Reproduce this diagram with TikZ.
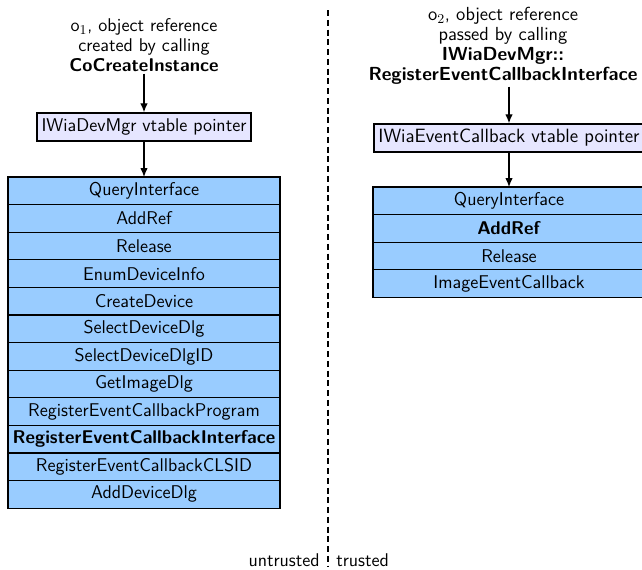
\documentclass[tikz,border=0pt]{standalone}
\usetikzlibrary{arrows.meta}
\definecolor{rowblue}{RGB}{153,204,255}
\definecolor{ptrfill}{RGB}{230,230,255}
\begin{document}
\begin{tikzpicture}[x=0.6667pt,y=-0.6667pt,font=\sffamily\fontsize{12.3}{13.4}\selectfont,
  rowbox/.style={draw,line width=0.9pt,fill=rowblue,minimum width=181.3pt,minimum height=18.4pt,inner sep=0pt,outer sep=0pt,anchor=north},
  ptrbox/.style={draw,line width=0.9pt,fill=ptrfill,minimum height=18.7pt,inner xsep=3pt,inner ysep=0pt},
  caption/.style={align=center,inner sep=1pt},
  arr/.style={-{Latex[length=6pt,width=5pt]},line width=0.8pt}]
\useasboundingbox (0,0) rectangle (642,569);
% left column
\node[caption] (lcap) at (144,45) {o$_1$, object reference\\created by calling\\\textbf{CoCreateInstance}};
\node[ptrbox] (lptr) at (144,127) {IWiaDevMgr vtable pointer};
\node[rowbox] (l1) at (144,177) {QueryInterface};
\node[rowbox] (l2) at (l1.south) {AddRef};
\node[rowbox] (l3) at (l2.south) {Release};
\node[rowbox] (l4) at (l3.south) {EnumDeviceInfo};
\node[rowbox] (l5) at (l4.south) {CreateDevice};
\node[rowbox] (l6) at (l5.south) {SelectDeviceDlg};
\node[rowbox] (l7) at (l6.south) {SelectDeviceDlgID};
\node[rowbox] (l8) at (l7.south) {GetImageDlg};
\node[rowbox] (l9) at (l8.south) {RegisterEventCallbackProgram};
\node[rowbox] (l10) at (l9.south) {\textbf{RegisterEventCallbackInterface}};
\node[rowbox] (l11) at (l10.south) {RegisterEventCallbackCLSID};
\node[rowbox] (l12) at (l11.south) {AddDeviceDlg};
\draw[arr] (lcap) -- (lptr);
\draw[arr] (lptr) -- (l1.north);
% right column
\node[caption,font=\sffamily\fontsize{12.6}{13.4}\selectfont] (rcap) at (503,46) {o$_2$, object reference\\passed by calling\\\textbf{IWiaDevMgr::}\\\textbf{RegisterEventCallbackInterface}};
\node[ptrbox,font=\sffamily\fontsize{12.8}{13.4}\selectfont] (rptr) at (509,138) {IWiaEventCallback vtable pointer};
\node[rowbox] (r1) at (509,187) {QueryInterface};
\node[rowbox] (r2) at (r1.south) {\textbf{AddRef}};
\node[rowbox] (r3) at (r2.south) {Release};
\node[rowbox] (r4) at (r3.south) {ImageEventCallback};
\draw[arr] (rptr.north |- rcap.south) -- (rptr.north);
\draw[arr] (rptr) -- (r1.north);
% trust boundary
\coordinate (dtop) at (328,10);
\coordinate (dbot) at (328,566);
\draw[line width=0.7pt,dash pattern=on 4pt off 2.5pt] (dtop) -- (dbot);
\node[anchor=east,inner sep=0pt] (untr) at (320,560) {untrusted};
\node[anchor=west,inner sep=0pt] (tr) at (336,560) {trusted};
\end{tikzpicture}
\end{document}
